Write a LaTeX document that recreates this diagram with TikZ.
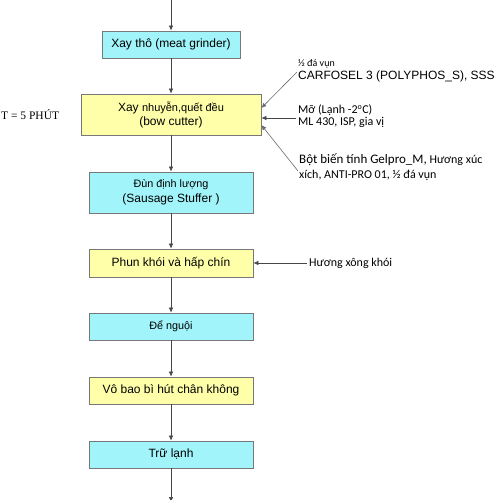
\documentclass[tikz,border=0pt]{standalone}
\usepackage{fontspec}
\setmainfont{Liberation Sans}
\newfontfamily\calib{Carlito}
\newfontfamily\timesf{Liberation Serif}
\usetikzlibrary{arrows.meta,calc,shadows}
\definecolor{boxcyan}{RGB}{160,244,250}
\definecolor{boxyellow}{RGB}{255,255,170}
\definecolor{edgegray}{RGB}{120,120,120}
\definecolor{linegray}{RGB}{70,70,70}
\begin{document}
\begin{tikzpicture}[x=1pt,y=-1pt,
  procbox/.style={draw=edgegray,line width=0.8pt,minimum width=164pt,minimum height=27pt,inner sep=1pt,align=center,font=\fontsize{12}{14}\selectfont,
    drop shadow={shadow xshift=1.2pt,shadow yshift=-1.2pt,fill=black!25}},
  cyanbox/.style={procbox,fill=boxcyan},
  yellowbox/.style={procbox,fill=boxyellow},
  flow/.style={draw=linegray,line width=0.6pt,-{Latex[length=5pt,width=4.5pt]}},
  sidetext/.style={inner sep=0pt,align=left,anchor=west,font=\calib\fontsize{12}{13}\selectfont}]
\useasboundingbox (0,0) rectangle (500,500);
\fill[white] (0,0) rectangle (500,500);
\coordinate (top) at (171,-2);
\coordinate (bot) at (171,502);
\node[cyanbox,minimum width=138pt] (b1) at (171,44.5) {Xay thô (meat grinder)};
\node[yellowbox,minimum width=180pt,minimum height=41pt,font=\fontsize{12}{14}\selectfont] (b2) at (171,114.5) {Xay {\fontsize{11}{14}\selectfont nhuyễn,quết đều}\\(bow cutter)};
\node[cyanbox,minimum height=41pt,font=\fontsize{12}{15}\selectfont] (b3) at (171,192.5) {{\fontsize{10.8}{15}\selectfont Đùn định lượng}\\(Sausage Stuffer )};
\node[yellowbox,minimum height=28pt] (b4) at (171,263) {Phun khói và hấp chín};
\node[cyanbox] (b5) at (171,326.5) {{\fontsize{10.8}{12}\selectfont Để nguội}};
\node[yellowbox] (b6) at (171,390.5) {Vô bao bì hút chân không};
\node[cyanbox] (b7) at (171,454.5) {Trữ lạnh};
\draw[flow] (top) -- (b1);
\draw[flow] (b1) -- (b2);
\draw[flow] (b2) -- (b3);
\draw[flow] (b3) -- (b4);
\draw[flow] (b4) -- (b5);
\draw[flow] (b5) -- (b6);
\draw[flow] (b6) -- (b7);
\draw[flow] (b7) -- (bot);
% side inputs
\node[sidetext,font=\calib\fontsize{12}{13}\selectfont] (s1) at (298,70.5) {{\fontsize{10}{13}\selectfont ½ đá vụn}\\{\rmfamily CARFOSEL 3 (POLYPHOS\_S), SSS}};
\node[sidetext,font=\calib\fontsize{12}{12}\selectfont] (s2) at (298,116.5) {Mỡ (Lạnh -2\textsuperscript{o}C)\\ML 430, ISP, gia vị};
\node[sidetext,font=\calib\fontsize{12}{15}\selectfont] (s3) at (299,167.5) {{\fontsize{13}{15}\selectfont Bột biến tính Gelpro\_M,} Hương xúc\\xích, ANTI-PRO 01, ½ đá vụn};
\coordinate (t1) at (297,72);
\coordinate (t2) at (296,118);
\coordinate (t3) at (298,171);
\draw[flow,draw=linegray!80] (t1) -- ($(b2.east)+(0,-6.5)$);
\draw[flow] (t2) -- ($(b2.east)+(0,3.5)$);
\draw[flow,draw=linegray!80] (t3) -- ($(b2.east)+(0,10.5)$);
\node[sidetext] (s4) at (309,263) {Hương xông khói};
\coordinate (t4) at (307,263);
\draw[flow] (t4) -- (b4);
\node[inner sep=0pt,anchor=west,font=\timesf\fontsize{11.5}{13}\selectfont] (tt) at (1,115) {T = 5 PHÚT};
\end{tikzpicture}
\end{document}
